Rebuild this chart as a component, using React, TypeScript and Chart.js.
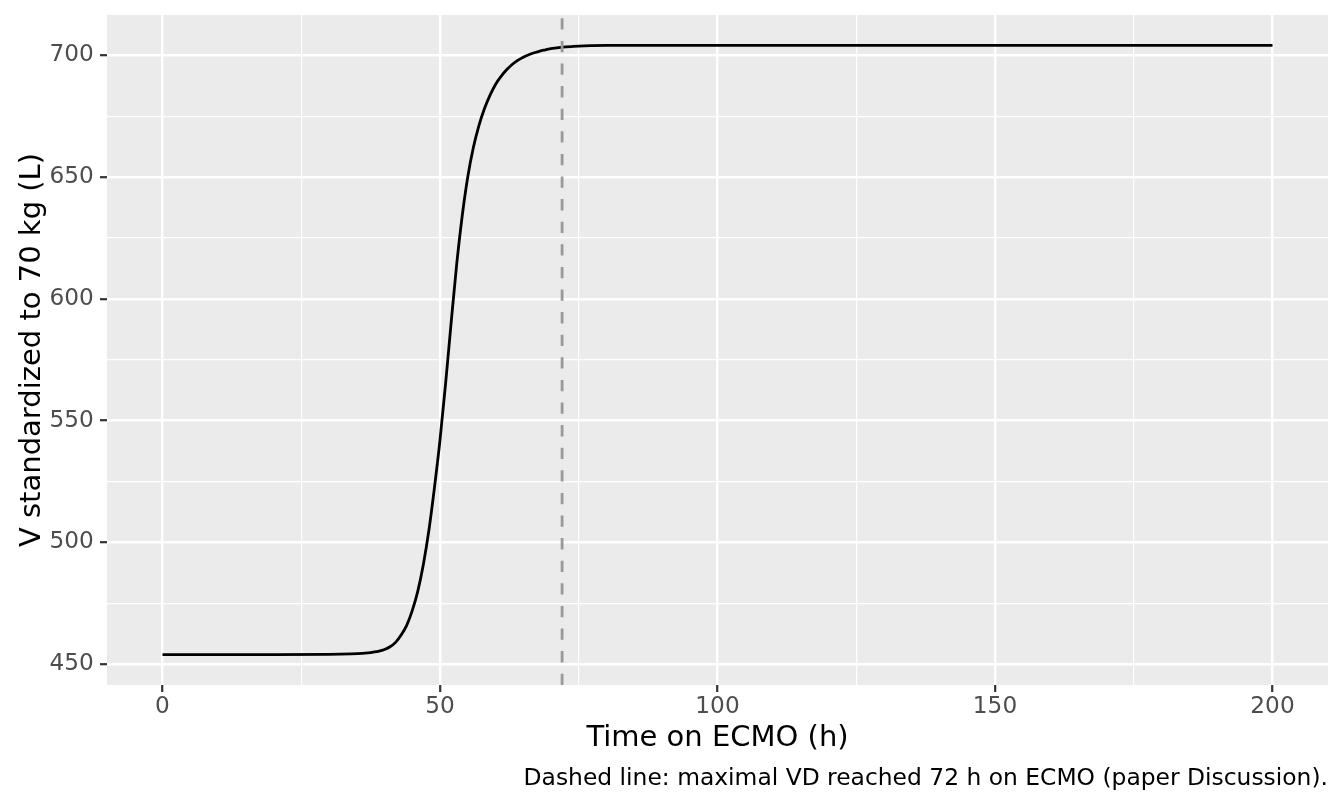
import { useEffect, useRef } from "react";
import { Chart, registerables } from "chart.js";

Chart.register(...registerables);

// Time on ECMO (h)
const hours = [
  0, 10, 20, 30, 34, 36, 37, 38, 39, 40, 41, 42, 43, 44, 45, 46, 47, 48, 49,
  50, 51, 52, 53, 54, 55, 56, 57, 58, 59, 60, 61, 62, 63, 64, 65, 66, 67, 68,
  69, 70, 71, 72, 74, 76, 80, 90, 100, 150, 200,
];
// V standardized to 70 kg (L)
const volumeL = [
  454, 454, 454, 454.1, 454.3, 454.5, 454.7, 455, 455.4, 456.1, 457.2, 459,
  462, 466, 472, 480, 491, 505, 522.5, 542, 565, 590, 614, 634, 650, 662, 671,
  678, 683.5, 688, 691.3, 694, 696.2, 697.9, 699.2, 700.2, 701, 701.7, 702.2,
  702.7, 703, 703.3, 703.6, 703.8, 704, 704, 704, 704, 704,
];

const markerHour = 72;
const xTicks = [0, 25, 50, 75, 100, 125, 150, 175, 200];
const xMajorTicks = [0, 50, 100, 150, 200];
const yTicks = [450, 475, 500, 525, 550, 575, 600, 625, 650, 675, 700];
const yMajorTicks = [450, 500, 550, 600, 650, 700];
const xLimits = [-10, 210];
const yLimits = [441.5, 716.5];

const xTitle = "Time on ECMO (h)";
const yTitle = "V standardized to 70 kg (L)";
const captionText =
  "Dashed line: maximal VD reached 72 h on ECMO (paper Discussion).";

const FONT = "'DejaVu Sans', sans-serif";

export default function App() {
  const ref = useRef<HTMLCanvasElement | null>(null);

  useEffect(() => {
    const canvas = ref.current;
    if (!canvas) return;

    const panelBg = {
      id: "panelBg",
      beforeDraw(chart: any) {
        const { ctx, chartArea } = chart;
        ctx.save();
        ctx.fillStyle = "#EBEBEB";
        ctx.fillRect(
          chartArea.left,
          chartArea.top,
          chartArea.right - chartArea.left,
          chartArea.bottom - chartArea.top
        );
        ctx.restore();
      },
    };

    const caption = {
      id: "caption",
      afterDraw(chart: any) {
        const { ctx, chartArea } = chart;
        ctx.save();
        ctx.font = `23.4px ${FONT}`;
        ctx.fillStyle = "#000000";
        ctx.textAlign = "right";
        ctx.textBaseline = "alphabetic";
        ctx.fillText(captionText, chartArea.right, 785);
        ctx.restore();
      },
    };

    const isXMajor = (v: number) => xMajorTicks.includes(v);
    const isYMajor = (v: number) => yMajorTicks.includes(v);

    const chart = new Chart(canvas, {
      type: "line",
      data: {
        datasets: [
          {
            label: "marker",
            data: [
              { x: markerHour, y: yLimits[0] },
              { x: markerHour, y: yLimits[1] },
            ],
            borderColor: "#999999",
            borderWidth: 2.8,
            borderDash: [11.3, 11.3],
            pointRadius: 0,
            fill: false,
          },
          {
            label: "V",
            data: hours.map((h, i) => ({ x: h, y: volumeL[i] })),
            borderColor: "#000000",
            borderWidth: 2.8,
            pointRadius: 0,
            fill: false,
            cubicInterpolationMode: "monotone",
          },
        ],
      },
      options: {
        animation: false,
        responsive: false,
        devicePixelRatio: 1,
        layout: { padding: { top: 15, right: 16, left: 0, bottom: 0 } },
        plugins: {
          legend: { display: false },
          tooltip: { enabled: false },
          title: { display: false },
        },
        scales: {
          x: {
            type: "linear",
            min: xLimits[0],
            max: xLimits[1],
            afterBuildTicks: (s: any) => {
              s.ticks = xTicks.map((v) => ({ value: v }));
            },
            afterFit: (s: any) => {
              s.height = 121;
              s.paddingLeft = 0;
              s.paddingRight = 0;
            },
            border: { display: false },
            grid: {
              color: "#FFFFFF",
              lineWidth: (c: any) => (isXMajor(c.tick?.value) ? 2.4 : 1.2),
              drawTicks: true,
              tickLength: 7,
              tickWidth: 2.2,
              tickColor: (c: any) =>
                isXMajor(c.tick?.value) ? "#333333" : "rgba(0,0,0,0)",
            },
            ticks: {
              autoSkip: false,
              maxRotation: 0,
              padding: 0.8,
              color: "#4D4D4D",
              font: { family: FONT, size: 23.2 },
              callback: (v: any) => (isXMajor(Number(v)) ? String(v) : ""),
            },
            title: {
              display: true,
              text: xTitle,
              color: "#000000",
              font: { family: FONT, size: 29, lineHeight: 1.2 },
              padding: { top: 0, bottom: 50.3 },
            },
          },
          y: {
            type: "linear",
            min: yLimits[0],
            max: yLimits[1],
            afterBuildTicks: (s: any) => {
              s.ticks = yTicks.map((v) => ({ value: v }));
            },
            afterFit: (s: any) => {
              s.width = 107;
              s.paddingTop = 0;
              s.paddingBottom = 0;
            },
            border: { display: false },
            grid: {
              color: "#FFFFFF",
              lineWidth: (c: any) => (isYMajor(c.tick?.value) ? 2.4 : 1.2),
              drawTicks: true,
              tickLength: 7,
              tickWidth: 2.2,
              tickColor: (c: any) =>
                isYMajor(c.tick?.value) ? "#333333" : "rgba(0,0,0,0)",
            },
            ticks: {
              autoSkip: false,
              padding: 6.3,
              color: "#4D4D4D",
              font: { family: FONT, size: 23.2 },
              callback: (v: any) => (isYMajor(Number(v)) ? String(v) : ""),
            },
            title: {
              display: true,
              text: yTitle,
              color: "#000000",
              font: { family: FONT, size: 29, lineHeight: 1.2 },
              padding: { top: 14.6, bottom: 0 },
            },
          },
        },
      },
      plugins: [panelBg, caption],
    });

    return () => chart.destroy();
  }, []);

  return (
    <div
      style={{
        position: "absolute",
        left: 0,
        top: 0,
        width: 1344,
        height: 806,
        background: "#FFFFFF",
      }}
    >
      <canvas ref={ref} width={1344} height={806} style={{ display: "block" }} />
    </div>
  );
}
